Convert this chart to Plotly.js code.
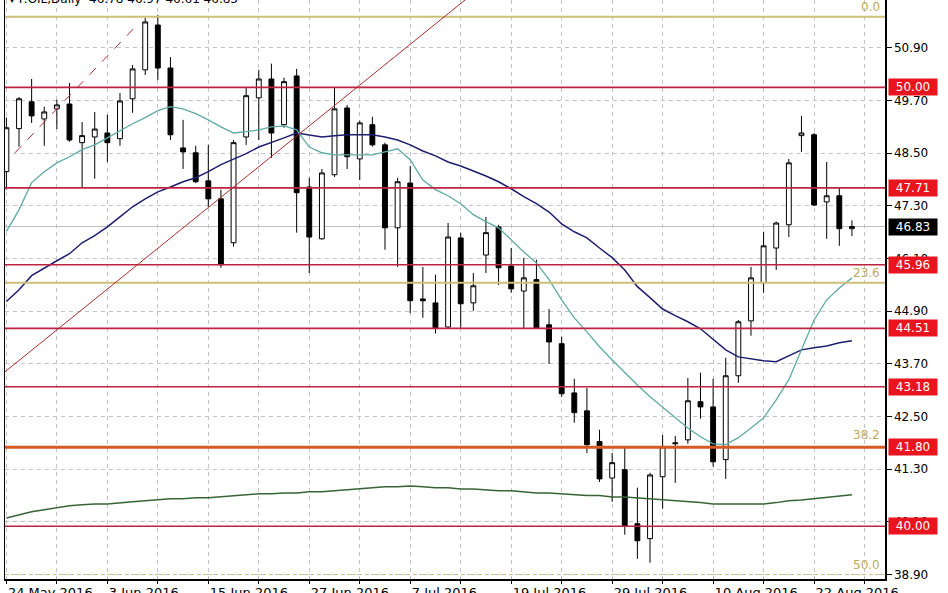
<!DOCTYPE html>
<html><head><meta charset="utf-8">
<script src="https://cdn.plot.ly/plotly-3.0.1.min.js"></script>
<style>html,body{margin:0;padding:0;background:#fff}#chart{width:948px;height:593px}</style>
</head><body><div id="chart"></div>
<script>
const dates = ['2016-05-24','2016-05-25','2016-05-26','2016-05-27','2016-05-30','2016-05-31',
'2016-06-01','2016-06-02','2016-06-03','2016-06-06','2016-06-07','2016-06-08','2016-06-09','2016-06-10',
'2016-06-13','2016-06-14','2016-06-15','2016-06-16','2016-06-17','2016-06-20','2016-06-21','2016-06-22',
'2016-06-23','2016-06-24','2016-06-27','2016-06-28','2016-06-29','2016-06-30','2016-07-01','2016-07-04',
'2016-07-05','2016-07-06','2016-07-07','2016-07-08','2016-07-11','2016-07-12','2016-07-13','2016-07-14',
'2016-07-15','2016-07-18','2016-07-19','2016-07-20','2016-07-21','2016-07-22','2016-07-25','2016-07-26',
'2016-07-27','2016-07-28','2016-07-29','2016-08-01','2016-08-02','2016-08-03','2016-08-04','2016-08-05',
'2016-08-08','2016-08-09','2016-08-10','2016-08-11','2016-08-12','2016-08-15','2016-08-16','2016-08-17',
'2016-08-18','2016-08-19','2016-08-22','2016-08-23','2016-08-24','2016-08-25'];

const openP = [48.08,49.06,49.67,49.28,49.51,49.62,48.74,48.87,48.96,48.83,49.74,50.40,51.42,50.44,48.62,48.51,47.87,47.46,46.46,48.87,
49.76,50.19,49.15,50.26,47.73,46.55,48.01,49.53,48.37,49.15,48.69,46.80,47.82,45.18,45.09,44.54,46.57,45.09,46.18,46.82,
45.93,45.36,45.62,44.59,44.16,43.04,42.63,41.93,41.10,41.29,40.06,39.72,41.13,41.88,41.97,42.84,42.72,41.52,43.43,44.68,
45.55,46.34,46.87,48.90,48.92,47.39,47.53,46.78];
const highP = [49.31,49.78,50.19,49.56,49.72,50.10,49.21,49.44,49.37,49.87,50.51,51.58,51.65,50.69,49.26,48.67,48.69,47.67,48.80,50.01,
50.40,50.54,50.22,50.42,47.94,48.14,50.01,49.60,49.24,49.33,48.74,47.94,48.21,45.91,45.73,46.91,46.69,45.77,47.05,46.87,
46.34,46.12,46.07,44.95,44.32,43.36,43.15,42.20,41.67,41.79,40.88,41.22,42.08,42.06,43.38,43.50,43.36,43.84,44.70,45.91,
46.71,46.94,48.37,49.35,48.96,48.30,47.71,46.97];
const lowP = [47.67,48.65,49.19,48.67,49.05,48.76,47.73,47.92,48.30,48.67,49.42,50.28,50.17,48.80,48.14,47.82,47.28,45.89,46.37,48.69,
48.80,48.39,49.08,46.69,45.77,46.53,47.96,48.14,47.89,48.65,46.30,45.91,44.86,44.75,44.39,44.52,44.52,44.91,45.77,45.50,
45.32,44.52,44.50,43.70,42.95,42.36,41.67,41.01,40.56,39.81,39.26,39.17,40.40,40.99,41.88,42.45,41.36,41.08,43.27,44.34,
45.32,45.84,46.59,48.53,47.30,46.55,46.39,46.61];
const closeP = [49.08,49.74,49.35,49.44,49.60,48.80,48.90,49.05,48.74,49.69,50.42,51.49,50.44,48.92,48.53,47.85,47.46,45.96,48.74,49.81,
50.19,48.96,50.13,47.60,46.59,48.05,49.51,48.42,49.19,48.69,46.80,47.85,45.14,45.14,44.52,46.59,45.07,45.48,46.69,45.89,
45.41,45.66,44.52,44.20,43.02,42.59,41.86,41.08,41.45,40.01,39.67,41.17,41.81,41.90,42.86,42.72,41.47,43.43,44.66,45.66,
46.39,46.91,48.28,48.96,47.32,47.53,46.78,46.83];

const maFast = [46.72,47.21,47.83,48.08,48.28,48.42,48.58,48.69,48.85,49.01,49.17,49.31,49.47,49.56,49.51,49.40,49.26,49.10,48.96,48.99,
49.03,49.10,49.12,49.03,48.64,48.51,48.46,48.46,48.46,48.46,48.53,48.60,48.35,47.89,47.67,47.53,47.35,47.10,46.94,46.80,
46.53,46.25,46.00,45.62,45.16,44.75,44.43,44.09,43.79,43.50,43.22,42.95,42.72,42.47,42.24,42.04,41.88,41.86,42.02,42.24,
42.47,42.88,43.34,44.02,44.70,45.16,45.43,45.66];
const maMid = [45.12,45.39,45.71,45.89,46.05,46.21,46.46,46.62,46.82,47.05,47.28,47.46,47.62,47.73,47.85,47.94,48.08,48.24,48.37,48.49,
48.64,48.74,48.85,48.96,48.92,48.87,48.90,48.92,48.92,48.92,48.87,48.80,48.69,48.55,48.44,48.30,48.21,48.10,47.98,47.85,
47.69,47.51,47.35,47.16,46.89,46.71,46.57,46.34,46.12,45.84,45.46,45.21,44.95,44.80,44.66,44.50,44.25,44.02,43.86,43.82,
43.77,43.75,43.88,44.02,44.07,44.11,44.18,44.23];
const maSlow = [40.19,40.26,40.33,40.38,40.42,40.47,40.49,40.51,40.51,40.54,40.56,40.58,40.60,40.63,40.63,40.65,40.65,40.67,40.70,40.72,
40.74,40.74,40.76,40.76,40.79,40.79,40.81,40.83,40.85,40.88,40.90,40.90,40.92,40.90,40.88,40.88,40.85,40.85,40.83,40.81,
40.81,40.79,40.76,40.76,40.74,40.72,40.70,40.70,40.67,40.67,40.65,40.63,40.60,40.58,40.56,40.54,40.51,40.51,40.51,40.51,
40.51,40.54,40.58,40.60,40.63,40.67,40.70,40.72];

const tickDates = ['2016-05-24','2016-06-03','2016-06-15','2016-06-27','2016-07-07','2016-07-19','2016-07-29','2016-08-10','2016-08-22'];
const tickLabels = ['24 May 2016','3 Jun 2016','15 Jun 2016','27 Jun 2016','7 Jul 2016','19 Jul 2016','29 Jul 2016','10 Aug 2016','22 Aug 2016'];
const yTicks = [50.90,49.70,48.50,47.30,46.10,44.90,43.70,42.50,41.30,40.10,38.90];

const levelPrices = [50.00,47.71,45.96,44.51,43.18,41.80,40.00];
const fibPrices = [51.61,45.55,41.85,38.90];
const fibLabels = ['0.0','23.6','38.2','50.0'];
const lastPrice = 46.83;
const titleText = '\u25BE F.OIL,Daily  46.78 46.97 46.61 46.83';

// trendlines (bar index, price)
const trendX = [-0.11, 40];
const trendY = [43.52, 52.84];
const dashX = [0.68, 10.35];
const dashY = [48.51, 51.42];

const xIdx = dates.map((d, i) => i);
const gridIdx = xIdx.filter(i => i % 4 === 0).concat([68]);
const labelIdx = tickDates.map(d => dates.indexOf(d));
const gridText = gridIdx.map(i => { const k = labelIdx.indexOf(i); return k >= 0 ? tickLabels[k] : ''; });

const FONT = 'DejaVu Sans, Verdana, sans-serif';
const traces = [
  {type:'candlestick', x:xIdx, open:openP, high:highP, low:lowP, close:closeP,
   increasing:{line:{color:'#000', width:1}, fillcolor:'#fff'},
   decreasing:{line:{color:'#000', width:1}, fillcolor:'#000'},
   whiskerwidth:0, hoverinfo:'skip', showlegend:false},
  {type:'scatter', mode:'lines', x:xIdx, y:maSlow, line:{color:'rgb(55,100,55)', width:1.5}, hoverinfo:'skip', showlegend:false},
  {type:'scatter', mode:'lines', x:xIdx, y:maMid, line:{color:'rgb(30,30,110)', width:1.5}, hoverinfo:'skip', showlegend:false},
  {type:'scatter', mode:'lines', x:xIdx, y:maFast, line:{color:'rgb(95,170,165)', width:1.3}, hoverinfo:'skip', showlegend:false}
];

const shapes = [];
shapes.push({type:'line', xref:'paper', x0:0, x1:1, yref:'y', y0:lastPrice, y1:lastPrice, line:{color:'#c0c0c0', width:1}, layer:'below'});
fibPrices.forEach((p, i) => {
  if (i === 2) return;
  shapes.push({type:'line', xref:'paper', x0:0, x1:1, yref:'y', y0:p, y1:p,
    line:{color:'rgb(205,190,120)', width: i === 3 ? 1 : 2, dash: i === 3 ? 'dot' : 'solid'}});
});
levelPrices.forEach(p => {
  const orange = p === 41.80;
  shapes.push({type:'line', xref:'paper', x0:0, x1:1, yref:'y', y0:p, y1:p,
    line:{color: orange ? 'rgb(215,90,35)' : 'rgb(190,35,65)', width: orange ? 3 : 1.6}});
});
shapes.push({type:'line', xref:'x', yref:'y', x0:trendX[0], x1:trendX[1], y0:trendY[0], y1:trendY[1], line:{color:'rgb(175,45,45)', width:1}});
shapes.push({type:'line', xref:'x', yref:'y', x0:dashX[0], x1:dashX[1], y0:dashY[0], y1:dashY[1], line:{color:'rgb(175,45,45)', width:1, dash:'dash'}});

const annotations = [];
levelPrices.forEach(p => {
  annotations.push({xref:'paper', x:1, xanchor:'left', xshift:3, yref:'y', y:p, yanchor:'middle',
    text:p.toFixed(2), showarrow:false, bgcolor:'rgb(232,20,30)', width:46, height:14, borderpad:1,
    font:{family:FONT, size:12, color:'#fff'}});
});
annotations.push({xref:'paper', x:1, xanchor:'left', xshift:3, yref:'y', y:lastPrice, yanchor:'middle',
  text:lastPrice.toFixed(2), showarrow:false, bgcolor:'#000', width:46, height:14, borderpad:1,
  font:{family:FONT, size:12, color:'#fff'}});
fibPrices.forEach((p, i) => {
  annotations.push({xref:'paper', x:1, xanchor:'right', xshift:-3, yref:'y', y:p, yanchor:'bottom', yshift:1,
    text:fibLabels[i], showarrow:false, font:{family:FONT, size:12, color:'rgb(190,170,95)'}});
});
annotations.push({xref:'paper', x:0, xanchor:'left', xshift:2, yref:'paper', y:1, yanchor:'top', yshift:10,
  text:titleText, showarrow:false, font:{family:FONT, size:12, color:'#000'}});

const layout = {
  width:948, height:593, paper_bgcolor:'#fff', plot_bgcolor:'#fff',
  margin:{l:5, r:63, t:0, b:14},
  boxgap:0.45,
  showlegend:false,
  xaxis:{type:'linear', range:[-0.11, 69.62], rangeslider:{visible:false},
    tickvals:gridIdx, ticktext:gridText, ticks:'outside', ticklen:3, tickcolor:'#000',
    ticklabelposition:'outside right',
    showgrid:true, gridcolor:'#c4c4c4', griddash:'4px,4px', gridwidth:1,
    showline:true, linecolor:'#000', linewidth:2, zeroline:false,
    tickfont:{family:FONT, size:13, color:'#000'}},
  yaxis:{side:'right', range:[38.80, 51.99], tickvals:yTicks, ticktext:yTicks.map(v => v.toFixed(2)),
    ticks:'outside', ticklen:5, tickcolor:'#000',
    showgrid:true, gridcolor:'#c4c4c4', griddash:'4px,4px', gridwidth:1,
    showline:true, mirror:true, linecolor:'#000', linewidth:1.5, zeroline:false,
    tickfont:{family:FONT, size:12, color:'#000'}},
  shapes:shapes, annotations:annotations
};
Plotly.newPlot('chart', traces, layout, {staticPlot:true, displayModeBar:false});
</script></body></html>
